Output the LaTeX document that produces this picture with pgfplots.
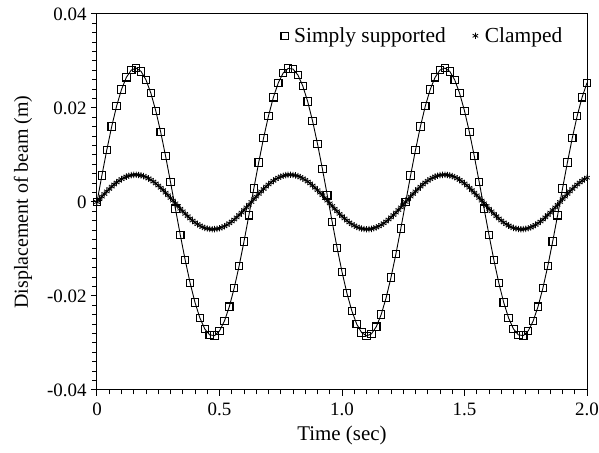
\documentclass[border=0pt]{standalone}
\usepackage{fontspec}
\setmainfont{Liberation Serif}
\usepackage{pgfplots}
\pgfplotsset{compat=1.18}
\usepackage{pgfplotstable}

% simply supported beam, squares every 0.02 s
\pgfplotstableread{
t y
0.00 0
0.02 0.00565
0.04 0.01107
0.06 0.01605
0.08 0.02040
0.10 0.02394
0.12 0.02653
0.14 0.02807
0.16 0.02849
0.18 0.02778
0.20 0.02598
0.22 0.02314
0.24 0.01939
0.26 0.01486
0.28 0.00975
0.30 0.00425
0.32 -0.00142
0.34 -0.00703
0.36 -0.01237
0.38 -0.01721
0.40 -0.02137
0.42 -0.02468
0.44 -0.02702
0.46 -0.02828
0.48 -0.02842
0.50 -0.02743
0.52 -0.02536
0.54 -0.02228
0.56 -0.01832
0.58 -0.01363
0.60 -0.00840
0.62 -0.00284
0.64 0.00284
0.66 0.00840
0.68 0.01363
0.70 0.01832
0.72 0.02228
0.74 0.02536
0.76 0.02743
0.78 0.02842
0.80 0.02828
0.82 0.02702
0.84 0.02468
0.86 0.02137
0.88 0.01721
0.90 0.01237
0.92 0.00703
0.94 0.00142
0.96 -0.00425
0.98 -0.00975
1.00 -0.01486
1.02 -0.01939
1.04 -0.02314
1.06 -0.02598
1.08 -0.02778
1.10 -0.02849
1.12 -0.02807
1.14 -0.02653
1.16 -0.02394
1.18 -0.02040
1.20 -0.01605
1.22 -0.01107
1.24 -0.00565
1.26 0
1.28 0.00565
1.30 0.01107
1.32 0.01605
1.34 0.02040
1.36 0.02394
1.38 0.02653
1.40 0.02807
1.42 0.02849
1.44 0.02778
1.46 0.02598
1.48 0.02314
1.50 0.01939
1.52 0.01486
1.54 0.00975
1.56 0.00425
1.58 -0.00142
1.60 -0.00703
1.62 -0.01237
1.64 -0.01721
1.66 -0.02137
1.68 -0.02468
1.70 -0.02702
1.72 -0.02828
1.74 -0.02842
1.76 -0.02743
1.78 -0.02536
1.80 -0.02228
1.82 -0.01832
1.84 -0.01363
1.86 -0.00840
1.88 -0.00284
1.90 0.00284
1.92 0.00840
1.94 0.01363
1.96 0.01832
1.98 0.02228
2.00 0.02536
}\simply

% clamped beam, asterisks every 0.01 s
\pgfplotstableread{
t y
0.00 0
0.01 0.00058
0.02 0.00115
0.03 0.00171
0.04 0.00225
0.05 0.00277
0.06 0.00327
0.07 0.00373
0.08 0.00415
0.09 0.00453
0.10 0.00487
0.11 0.00516
0.12 0.00540
0.13 0.00558
0.14 0.00571
0.15 0.00578
0.16 0.00580
0.17 0.00575
0.18 0.00565
0.19 0.00550
0.20 0.00529
0.21 0.00502
0.22 0.00471
0.23 0.00435
0.24 0.00395
0.25 0.00350
0.26 0.00302
0.27 0.00252
0.28 0.00198
0.29 0.00143
0.30 0.00086
0.31 0.00029
0.32 -0.00029
0.33 -0.00086
0.34 -0.00143
0.35 -0.00198
0.36 -0.00252
0.37 -0.00302
0.38 -0.00350
0.39 -0.00395
0.40 -0.00435
0.41 -0.00471
0.42 -0.00502
0.43 -0.00529
0.44 -0.00550
0.45 -0.00565
0.46 -0.00575
0.47 -0.00580
0.48 -0.00578
0.49 -0.00571
0.50 -0.00558
0.51 -0.00540
0.52 -0.00516
0.53 -0.00487
0.54 -0.00453
0.55 -0.00415
0.56 -0.00373
0.57 -0.00327
0.58 -0.00277
0.59 -0.00225
0.60 -0.00171
0.61 -0.00115
0.62 -0.00058
0.63 0
0.64 0.00058
0.65 0.00115
0.66 0.00171
0.67 0.00225
0.68 0.00277
0.69 0.00327
0.70 0.00373
0.71 0.00415
0.72 0.00453
0.73 0.00487
0.74 0.00516
0.75 0.00540
0.76 0.00558
0.77 0.00571
0.78 0.00578
0.79 0.00580
0.80 0.00575
0.81 0.00565
0.82 0.00550
0.83 0.00529
0.84 0.00502
0.85 0.00471
0.86 0.00435
0.87 0.00395
0.88 0.00350
0.89 0.00302
0.90 0.00252
0.91 0.00198
0.92 0.00143
0.93 0.00086
0.94 0.00029
0.95 -0.00029
0.96 -0.00086
0.97 -0.00143
0.98 -0.00198
0.99 -0.00252
1.00 -0.00302
1.01 -0.00350
1.02 -0.00395
1.03 -0.00435
1.04 -0.00471
1.05 -0.00502
1.06 -0.00529
1.07 -0.00550
1.08 -0.00565
1.09 -0.00575
1.10 -0.00580
1.11 -0.00578
1.12 -0.00571
1.13 -0.00558
1.14 -0.00540
1.15 -0.00516
1.16 -0.00487
1.17 -0.00453
1.18 -0.00415
1.19 -0.00373
1.20 -0.00327
1.21 -0.00277
1.22 -0.00225
1.23 -0.00171
1.24 -0.00115
1.25 -0.00058
1.26 0
1.27 0.00058
1.28 0.00115
1.29 0.00171
1.30 0.00225
1.31 0.00277
1.32 0.00327
1.33 0.00373
1.34 0.00415
1.35 0.00453
1.36 0.00487
1.37 0.00516
1.38 0.00540
1.39 0.00558
1.40 0.00571
1.41 0.00578
1.42 0.00580
1.43 0.00575
1.44 0.00565
1.45 0.00550
1.46 0.00529
1.47 0.00502
1.48 0.00471
1.49 0.00435
1.50 0.00395
1.51 0.00350
1.52 0.00302
1.53 0.00252
1.54 0.00198
1.55 0.00143
1.56 0.00086
1.57 0.00029
1.58 -0.00029
1.59 -0.00086
1.60 -0.00143
1.61 -0.00198
1.62 -0.00252
1.63 -0.00302
1.64 -0.00350
1.65 -0.00395
1.66 -0.00435
1.67 -0.00471
1.68 -0.00502
1.69 -0.00529
1.70 -0.00550
1.71 -0.00565
1.72 -0.00575
1.73 -0.00580
1.74 -0.00578
1.75 -0.00571
1.76 -0.00558
1.77 -0.00540
1.78 -0.00516
1.79 -0.00487
1.80 -0.00453
1.81 -0.00415
1.82 -0.00373
1.83 -0.00327
1.84 -0.00277
1.85 -0.00225
1.86 -0.00171
1.87 -0.00115
1.88 -0.00058
1.89 0
1.90 0.00058
1.91 0.00115
1.92 0.00171
1.93 0.00225
1.94 0.00277
1.95 0.00327
1.96 0.00373
1.97 0.00415
1.98 0.00453
1.99 0.00487
2.00 0.00516
}\clamped

\begin{document}
\begin{tikzpicture}
\begin{axis}[
    scale only axis,
    width=490bp, height=376bp,
    xmin=0, xmax=2.0,
    ymin=-0.04, ymax=0.04,
    scaled ticks=false,
    xtick={0,0.5,1.0,1.5,2.0},
    xticklabels={0,0.5,1.0,1.5,2.0},
    ytick={-0.04,-0.02,0,0.02,0.04},
    yticklabels={-0.04,-0.02,0,0.02,0.04},
    minor x tick num=9,
    minor y tick num=9,
    tick align=outside,
    xtick pos=left, ytick pos=left,
    major tick length=6bp, minor tick length=4.5bp,
    tick style={black, line width=1pt},
    axis line style={line width=1pt},
    /pgf/number format/assume math mode=true,
    tick label style={font=\fontsize{19}{21}\selectfont},
    xticklabel style={yshift=-3bp},
    yticklabel style={xshift=-1bp},
    xlabel={Time (sec)},
    ylabel={Displacement of beam (m)},
    xlabel style={font=\fontsize{21}{24}\selectfont,
        at={(axis description cs:0.5,-0.12)}, anchor=center},
    ylabel style={font=\fontsize{20}{24}\selectfont,
        at={(axis description cs:-0.151,0.5)}, anchor=center},
    legend columns=2,
    legend style={draw=none, fill=none, at={(axis description cs:0.96,0.975)}, anchor=north east,
        font=\fontsize{21.5}{24}\selectfont,
        /tikz/every even column/.append style={column sep=20bp}},
    legend image code/.code={\path (0cm,0cm) (0.5cm,0cm);
        \draw[#1,only marks] plot coordinates {(0.25cm,0cm)};},
]
\addplot[black, line width=0.9pt, mark=square, mark size=3.7bp,
    mark options={solid, line width=1.1pt}] table[x=t,y=y] {\simply};
\addlegendentry{Simply supported}
\addplot[black, line width=0.8pt, mark=asterisk, mark size=3.2bp,
    mark options={line width=0.8pt}] table[x=t,y=y] {\clamped};
\addlegendentry{Clamped}
\end{axis}
\pgfresetboundingbox
\path[use as bounding box] ([xshift=-97bp,yshift=-63bp]current axis.south west)
    rectangle ([xshift=12bp,yshift=14bp]current axis.north east);
\end{tikzpicture}
\end{document}
